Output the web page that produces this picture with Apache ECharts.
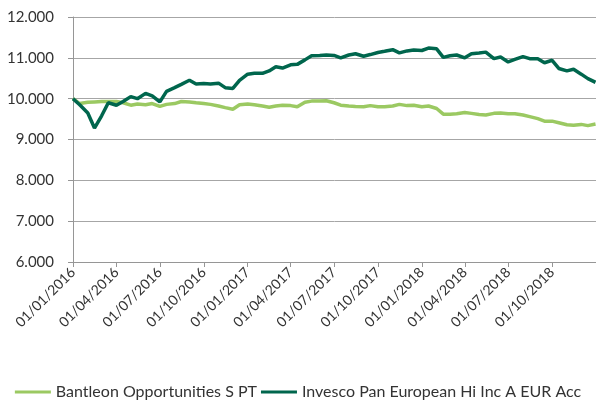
<!DOCTYPE html>
<html>
<head>
<meta charset="utf-8">
<script src="https://cdn.jsdelivr.net/npm/echarts@6/dist/echarts.min.js"></script>
<style>
  html, body { margin: 0; padding: 0; background: #fff; }
  #chart { width: 596px; height: 405px; }
</style>
</head>
<body>
<div id="chart"></div>
<script>
// semi-monthly observation dates
const dates = [
  '2016-01-01','2016-01-15','2016-02-01','2016-02-15','2016-03-01','2016-03-15','2016-04-01','2016-04-15',
  '2016-05-01','2016-05-15','2016-06-01','2016-06-15','2016-07-01','2016-07-15','2016-08-01','2016-08-15',
  '2016-09-01','2016-09-15','2016-10-01','2016-10-15','2016-11-01','2016-11-15','2016-12-01','2016-12-15',
  '2017-01-01','2017-01-15','2017-02-01','2017-02-15','2017-03-01','2017-03-15','2017-04-01','2017-04-15',
  '2017-05-01','2017-05-15','2017-06-01','2017-06-15','2017-07-01','2017-07-15','2017-08-01','2017-08-15',
  '2017-09-01','2017-09-15','2017-10-01','2017-10-15','2017-11-01','2017-11-15','2017-12-01','2017-12-15',
  '2018-01-01','2018-01-15','2018-02-01','2018-02-15','2018-03-01','2018-03-15','2018-04-01','2018-04-15',
  '2018-05-01','2018-05-15','2018-06-01','2018-06-15','2018-07-01','2018-07-15','2018-08-01','2018-08-15',
  '2018-09-01','2018-09-15','2018-10-01','2018-10-15','2018-11-01','2018-11-15','2018-12-01','2018-12-15',
  '2018-12-31'
];

const bantleon = [
  10000, 9880, 9910, 9920, 9930, 9930, 9930, 9900, 9840, 9870, 9850, 9880,
  9810, 9860, 9880, 9930, 9920, 9900, 9880, 9860, 9820, 9780, 9740, 9850,
  9870, 9850, 9820, 9790, 9820, 9840, 9830, 9800, 9910, 9940, 9940, 9950,
  9900, 9840, 9820, 9810, 9800, 9830, 9800, 9800, 9820, 9860, 9830, 9840,
  9800, 9820, 9760, 9620, 9620, 9630, 9660, 9640, 9610, 9600, 9640, 9650,
  9630, 9630, 9600, 9560, 9510, 9450, 9450, 9410, 9360, 9350, 9370, 9340,
  9380
];

const invesco = [
  10000, 9850, 9650, 9280, 9580, 9900, 9840, 9930, 10050, 10000, 10130, 10070,
  9920, 10180, 10270, 10350, 10450, 10360, 10370, 10360, 10380, 10270, 10250, 10450,
  10600, 10620, 10620, 10680, 10780, 10750, 10830, 10840, 10950, 11050, 11060, 11070,
  11060, 11000, 11070, 11100, 11040, 11080, 11130, 11160, 11200, 11120, 11170, 11190,
  11180, 11240, 11220, 11010, 11050, 11070, 11000, 11100, 11120, 11140, 10980, 11020,
  10900, 10960, 11030, 10980, 10980, 10880, 10940, 10740, 10680, 10720, 10600, 10490,
  10400
];

const seriesNames = ['Bantleon Opportunities S PT', 'Invesco Pan European Hi Inc A EUR Acc'];

// quarterly tick dates on the x axis
const tickDates = [
  '2016-01-01','2016-04-01','2016-07-01','2016-10-01',
  '2017-01-01','2017-04-01','2017-07-01','2017-10-01',
  '2018-01-01','2018-04-01','2018-07-01','2018-10-01'
];

function toTime(s) {
  const p = s.split('-').map(Number);
  return new Date(p[0], p[1] - 1, p[2]).getTime();
}
function fmtDate(v) {
  const d = new Date(v);
  const dd = String(d.getDate()).padStart(2, '0');
  const mm = String(d.getMonth() + 1).padStart(2, '0');
  return dd + '/' + mm + '/' + d.getFullYear();
}
function fmtThousands(v) {
  const whole = Math.floor(v / 1000);
  const rest = String(Math.round(v % 1000)).padStart(3, '0');
  return whole + '.' + rest;
}

const chart = echarts.init(document.getElementById('chart'));
const tickValues = tickDates.map(toTime);
const times = dates.map(toTime);
const font = 'Lato';

const option = {
  animation: false,
  color: ['#9BC962', '#00664D'],
  grid: { left: 73, right: 0, top: 17, bottom: 143 },
  legend: {
    bottom: 0,
    left: 'center',
    itemWidth: 36,
    itemHeight: 3,
    itemGap: 4,
    icon: 'rect',
    textStyle: { fontFamily: font, fontSize: 16, color: '#333333' },
    data: seriesNames
  },
  xAxis: {
    type: 'value',
    min: toTime('2016-01-01'),
    max: toTime('2019-01-01'),
    axisLine: { lineStyle: { color: '#969696', width: 1 } },
    axisTick: { show: true, length: 5, customValues: tickValues, lineStyle: { color: '#969696' } },
    axisLabel: {
      customValues: tickValues,
      rotate: 45,
      margin: 8,
      fontFamily: font,
      fontSize: 14,
      color: '#333333',
      formatter: fmtDate
    },
    splitLine: { show: false }
  },
  yAxis: {
    type: 'value',
    min: 6000,
    max: 12000,
    interval: 1000,
    axisLine: { show: true, lineStyle: { color: '#969696', width: 1 } },
    axisTick: { show: true, length: 5, lineStyle: { color: '#969696' } },
    axisLabel: {
      margin: 19,
      fontFamily: font,
      fontSize: 15,
      color: '#333333',
      formatter: fmtThousands
    },
    splitLine: { lineStyle: { color: '#a6a6a6', width: 1 } }
  },
  series: [
    {
      name: seriesNames[0],
      type: 'line',
      data: times.map((t, i) => [t, bantleon[i]]),
      showSymbol: false,
      lineStyle: { width: 3.5 }
    },
    {
      name: seriesNames[1],
      type: 'line',
      data: times.map((t, i) => [t, invesco[i]]),
      showSymbol: false,
      lineStyle: { width: 3.5 }
    }
  ]
};

chart.setOption(option);
</script>
</body>
</html>
